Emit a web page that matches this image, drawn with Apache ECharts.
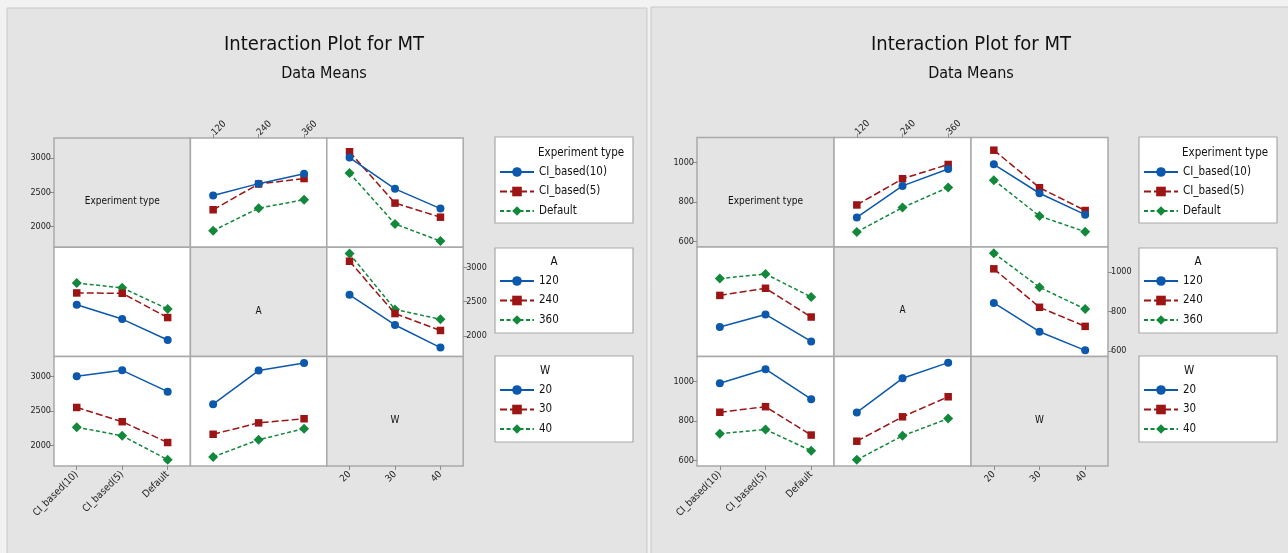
<!DOCTYPE html>
<html>
<head>
<meta charset="utf-8">
<title>Interaction Plot for MT</title>
<script src="https://cdn.jsdelivr.net/npm/echarts@6/dist/echarts.min.js"></script>
<style>
  html, body { margin: 0; padding: 0; background: #f2f2f2; }
  #chart { width: 1288px; height: 553px; }
</style>
</head>
<body>
<div id="chart"></div>
<script>
// factor levels
const expTypes = ['CI_based(10)', 'CI_based(5)', 'Default'];
const aLevels = ['120', '240', '360'];
const wLevels = ['20', '30', '40'];
const factorNames = ['Experiment type', 'A', 'W'];

// left plot, data means (rows = first factor, cols = second factor)
const leftExpA = [[2454, 2626, 2770], [2246, 2621, 2700], [1942, 2268, 2393]];
const leftExpW = [[3005, 2550, 2263], [3090, 2343, 2138], [2780, 2040, 1790]];
const leftAW = [[2598, 2160, 1831], [3087, 2326, 2080], [3198, 2386, 2242]];
const leftYTicks = [2000, 2500, 3000];

// right plot
const rightExpA = [[722, 881, 966], [785, 917, 989], [649, 772, 873]];
const rightExpW = [[990, 844, 736], [1061, 872, 757], [910, 729, 650]];
const rightAW = [[843, 698, 604], [1015, 821, 725], [1094, 922, 812]];
const rightYTicks = [600, 800, 1000];

const factors = [expTypes, aLevels, wLevels];
const FONT = "'DejaVu Sans Condensed', 'Liberation Sans', sans-serif";

const lineColors = ['#0b58ad', '#9c1414', '#12883a'];
const lineSymbols = ['circle', 'rect', 'diamond'];
const symbolSizes = [8, 7.5, 10];
const lineDash = ['solid', [7, 3], [4, 2.5]];

const plots = [
    { x0: 54, y0: 138, cw: 136.4, rh: 109.3, yMin: 1700, yMax: 3290, yTicks: leftYTicks,
      tables: [[null, leftExpA, leftExpW], [null, null, leftAW]],
      panel: [7, 8, 640, 560], titleX: 324, boxX: 495 },
    { x0: 697, y0: 137.5, cw: 137, rh: 109.5, yMin: 573, yMax: 1125, yTicks: rightYTicks,
      tables: [[null, rightExpA, rightExpW], [null, null, rightAW]],
      panel: [651, 7, 650, 560], titleX: 971, boxX: 1139 }
];

// value of line level `l` (factor r) at x level `m` (factor c)
function cellValue(tables, r, c, l, m) {
    return r < c ? tables[r][c][l][m] : tables[c][r][m][l];
}

const grid = [], xAxis = [], yAxis = [], series = [], legend = [], graphic = [];
const boxTops = [[137, 223], [248, 333], [356, 442]];
const itemCenters = [172, 281, 390];

plots.forEach((p, pi) => {
    graphic.push({ type: 'rect', z: -100, shape: { x: p.panel[0], y: p.panel[1], width: p.panel[2], height: p.panel[3] },
        style: { fill: '#e4e4e4', stroke: '#c9c9c9', lineWidth: 1 } });
    graphic.push({ type: 'text', x: p.titleX, y: 45, style: { text: 'Interaction Plot for MT', font: '20px ' + FONT, fill: '#111', align: 'center', verticalAlign: 'middle' } });
    graphic.push({ type: 'text', x: p.titleX, y: 74, style: { text: 'Data Means', font: '16px ' + FONT, fill: '#111', align: 'center', verticalAlign: 'middle' } });

    for (let r = 0; r < 3; r++) {
        for (let c = 0; c < 3; c++) {
            const g = grid.length;
            grid.push({
                left: p.x0 + c * p.cw, top: p.y0 + r * p.rh, width: p.cw, height: p.rh,
                show: true, backgroundColor: r === c ? '#e4e4e4' : '#ffffff',
                borderColor: '#a9a9a9', borderWidth: 1.5, outerBoundsMode: 'none'
            });
            const showX = (c === 1 && r === 0) || (c !== 1 && r === 2);
            const showY = (r === 1 && c === 2) || (r !== 1 && c === 0);
            const top = c === 1;
            xAxis.push({
                gridIndex: g, type: 'category', data: factors[c], boundaryGap: true,
                position: top ? 'top' : 'bottom',
                axisLine: { show: false }, splitLine: { show: false },
                axisTick: { show: showX, alignWithLabel: true, length: 4, lineStyle: { color: '#8c8c8c' } },
                axisLabel: { show: showX, interval: 0, rotate: top ? -45 : 45, margin: top ? 4 : 7, color: '#222',
                    align: top ? 'left' : 'right', verticalAlign: 'middle',
                    fontSize: c === 0 ? 10 : 9.5, fontFamily: FONT }
            });
            yAxis.push({
                gridIndex: g, type: 'value', min: p.yMin, max: p.yMax,
                position: r === 1 ? 'right' : 'left',
                axisLine: { show: false }, splitLine: { show: false },
                axisTick: { show: showY, length: 4, customValues: p.yTicks, lineStyle: { color: '#8c8c8c' } },
                axisLabel: { show: showY, customValues: p.yTicks, margin: 3, color: '#222', fontSize: 9, fontFamily: FONT,
                    formatter: v => String(v) }
            });
            if (r === c) {
                graphic.push({ type: 'text', x: p.x0 + (c + 0.5) * p.cw, y: p.y0 + (r + 0.5) * p.rh + 9,
                    style: { text: factorNames[r], font: '10px ' + FONT, fill: '#111', align: 'center', verticalAlign: 'middle' } });
                continue;
            }
            factors[r].forEach((name, l) => {
                series.push({
                    type: 'line', name: name, xAxisIndex: g, yAxisIndex: g,
                    data: factors[c].map((_, m) => cellValue(p.tables, r, c, l, m)),
                    symbol: lineSymbols[l], symbolSize: symbolSizes[l], showAllSymbol: true,
                    itemStyle: { color: lineColors[l] },
                    lineStyle: { color: lineColors[l], width: 1.5, type: lineDash[l] },
                    z: 3 - l
                });
            });
        }
    }

    // legends, one box per factor
    factors.forEach((levels, k) => {
        const bx = p.boxX, by = boxTops[k];
        graphic.push({ type: 'rect', z: -1, shape: { x: bx, y: by[0], width: 138, height: by[1] - by[0] },
            style: { fill: '#ffffff', stroke: '#a9a9a9', lineWidth: 1.2 } });
        const titleStyle = k === 0
            ? { x: bx + 43, align: 'left' }
            : { x: bx + (k === 1 ? 59 : 50), align: 'center' };
        graphic.push({ type: 'text', x: titleStyle.x, y: itemCenters[k] - 19,
            style: { text: factorNames[k], font: '11.5px ' + FONT, fill: '#111', align: titleStyle.align, verticalAlign: 'middle' } });
        legend.push({
            orient: 'vertical', left: bx + 4, top: itemCenters[k] - 6, padding: 0,
            itemWidth: 34, itemHeight: 12, itemGap: 7.5, selectedMode: false,
            data: levels.map((n, l) => ({ name: n, lineStyle: { type: lineDash[l], width: 2 } })),
            textStyle: { fontSize: 11.5, fontFamily: FONT, color: '#111' }
        });
    });
});

const chart = echarts.init(document.getElementById('chart'));
chart.setOption({
    animation: false,
    backgroundColor: '#f2f2f2',
    textStyle: { fontFamily: FONT },
    grid, xAxis, yAxis, series, legend, graphic
});
</script>
</body>
</html>
